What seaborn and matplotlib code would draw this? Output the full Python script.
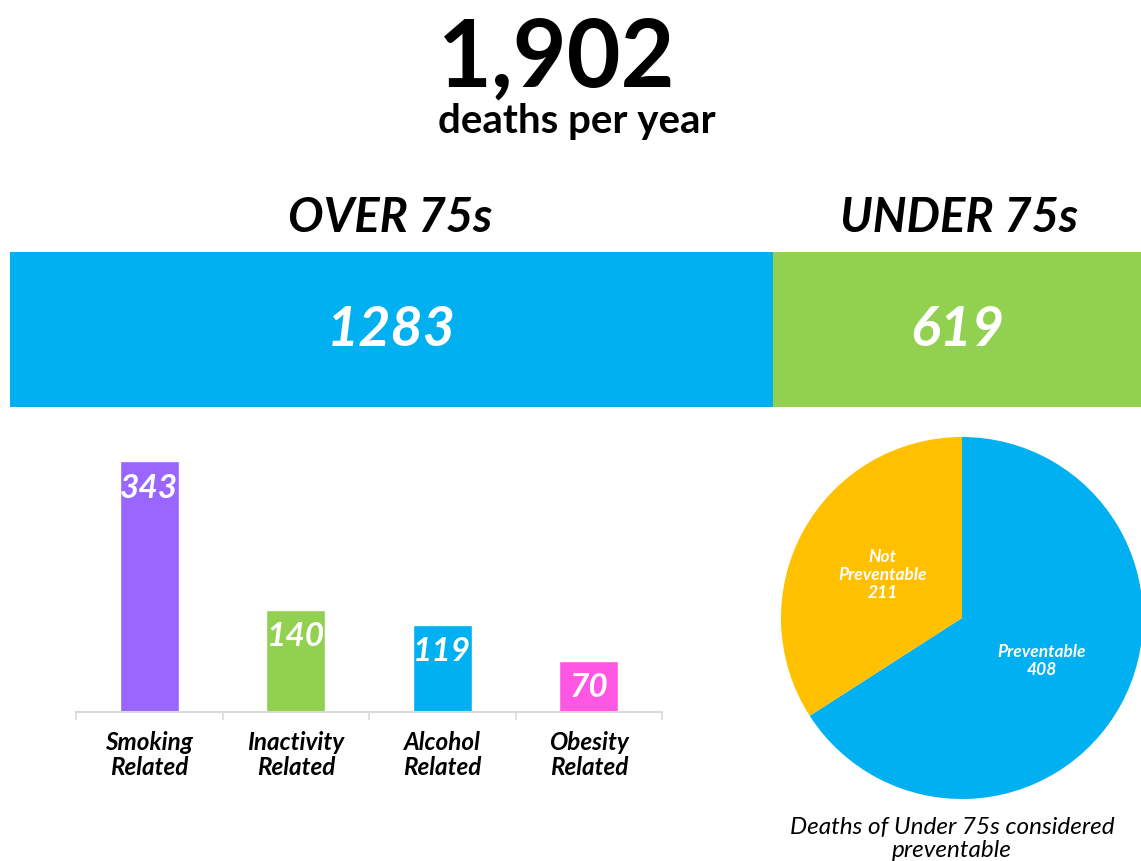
import numpy as np
import matplotlib
matplotlib.use("Agg")
import matplotlib.pyplot as plt
import seaborn as sns

# data
total_deaths = "1,902"
age_groups = ["OVER 75s", "UNDER 75s"]
age_values = [1283, 619]
age_colors = ["#00B0F0", "#92D050"]

causes = ["Smoking\nRelated", "Inactivity\nRelated", "Alcohol\nRelated", "Obesity\nRelated"]
cause_values = [343, 140, 119, 70]
cause_colors = ["#9966FF", "#92D050", "#00B0F0", "#FF57E4"]

prevent_labels = ["Preventable", "Not\nPreventable"]
prevent_values = [408, 211]
prevent_colors = ["#00B0F0", "#FFC000"]

sns.set_theme(style="white")
plt.rcParams["font.family"] = ["Lato", "DejaVu Sans"]

W, H = 1141, 861
fig = plt.figure(figsize=(W / 100, H / 100), dpi=100)
fig.patch.set_facecolor("white")


def px_rect(x0, y0, x1, y1):
    # pixel box (top-left origin) -> figure fraction rect
    return [x0 / W, 1 - y1 / H, (x1 - x0) / W, (y1 - y0) / H]


def fy(y):
    return 1 - y / H


# headline
fig.text(557 / W, fy(59), total_deaths, ha="center", va="center",
         fontsize=67, fontweight="bold", color="black")
fig.text(577 / W, fy(121), "deaths per year", ha="center", va="center",
         fontsize=29, fontweight="bold", color="black")

# stacked age bar
ax_top = fig.add_axes(px_rect(10, 252, 1141, 407))
left = 0
for name, val, col in zip(age_groups, age_values, age_colors):
    ax_top.barh([0], [val], left=left, height=1.0, color=col, edgecolor="none")
    ax_top.text(left + val / 2, 0, str(val), ha="center", va="center",
                fontsize=40, fontweight="bold", fontstyle="italic", color="white")
    left += val
ax_top.set_xlim(0, sum(age_values))
ax_top.set_ylim(-0.5, 0.5)
ax_top.axis("off")

# section headers above the bar
fig.text(390 / W, fy(218), age_groups[0], ha="center", va="center",
         fontsize=34, fontweight="bold", fontstyle="italic", color="black")
fig.text(959 / W, fy(218), age_groups[1], ha="center", va="center",
         fontsize=34, fontweight="bold", fontstyle="italic", color="black")

# causes bar chart (over 75s)
ax_bar = fig.add_axes(px_rect(76, 440, 662, 712))
sns.barplot(x=causes, y=cause_values, hue=causes, palette=cause_colors,
            legend=False, width=0.4, saturation=1, ax=ax_bar)
ax_bar.set_ylim(0, 372)
ax_bar.set_xlim(-0.5, len(causes) - 0.5)
for i, v in enumerate(cause_values):
    ax_bar.annotate(str(v), (i, v), xytext=(0, -9), textcoords="offset points",
                    ha="center", va="top", fontsize=24, fontweight="bold",
                    fontstyle="italic", color="white")
for s in ["top", "left", "right"]:
    ax_bar.spines[s].set_visible(False)
ax_bar.spines["bottom"].set_color("#D9D9D9")
ax_bar.spines["bottom"].set_linewidth(1.5)
ax_bar.set_yticks([])
ax_bar.set_xticks(np.arange(-0.5, len(causes)), minor=True)
ax_bar.tick_params(axis="x", which="minor", length=6, width=1.2, color="#D9D9D9",
                   direction="out", bottom=True)
ax_bar.tick_params(axis="x", which="major", length=0, pad=14)
ax_bar.set_xticks(range(len(causes)))
ax_bar.set_xticklabels(causes, fontsize=17.5, fontweight="bold", fontstyle="italic",
                       color="black", linespacing=1.1)
ax_bar.set_xlabel("")
ax_bar.set_ylabel("")
ax_bar.patch.set_alpha(0)

# preventable pie (under 75s)
ax_pie = fig.add_axes(px_rect(781, 437, 1143, 799))
vals_iter = iter(prevent_values)
names_iter = iter(prevent_labels)


def pie_label(pct):
    return f"{next(names_iter)}\n{next(vals_iter)}"


wedges, _, autotexts = ax_pie.pie(prevent_values, colors=prevent_colors, startangle=90,
                                  counterclock=False, autopct=pie_label, pctdistance=0.5,
                                  radius=1.0, wedgeprops=dict(linewidth=0))
for t in autotexts:
    t.set_color("white")
    t.set_fontsize(12.5)
    t.set_fontweight("bold")
    t.set_fontstyle("italic")
    t.set_linespacing(1.15)
ax_pie.set_xlim(-1, 1)
ax_pie.set_ylim(-1, 1)
ax_pie.axis("off")

fig.text(952 / W, fy(839), "Deaths of Under 75s considered\npreventable",
         ha="center", va="center", fontsize=17.5, fontstyle="italic",
         color="black", linespacing=1.1)

fig.savefig("out.png", dpi=100, facecolor="white")
